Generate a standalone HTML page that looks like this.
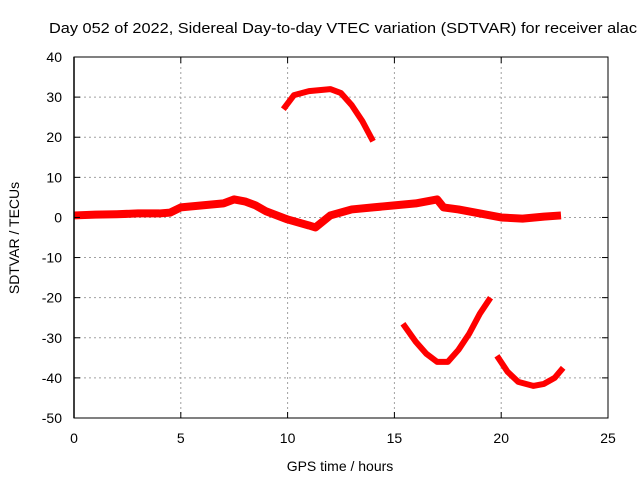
<!DOCTYPE html>
<html><head><meta charset="utf-8"><style>
body{margin:0;background:#fff}
svg{font-family:"Liberation Sans",sans-serif;font-size:14px}
</style></head><body>
<svg id="chart" width="640" height="480">
<text x="49" y="33" text-anchor="start" textLength="588" lengthAdjust="spacingAndGlyphs" style="font-size:15px">Day 052 of 2022, Sidereal Day-to-day VTEC variation (SDTVAR) for receiver alac</text>
<g id="grid"></g><g id="series"></g><g id="axes"></g>
<text x="340" y="471" text-anchor="middle">GPS time / hours</text>
<text transform="translate(19,238) rotate(-90)" text-anchor="middle">SDTVAR / TECUs</text>
</svg>
<script>
const xTicks=[0,5,10,15,20,25];
const yTicks=[40,30,20,10,0,-10,-20,-30,-40,-50];
const mainHours=[0,1,2,3,4,4.5,5,6,7,7.5,8,8.5,9,10,11,11.3,12,13,14,15,16,17,17.3,18,19,20,21,22,22.8];
const mainValues=[0.5,0.7,0.8,1,1,1.2,2.5,3,3.5,4.5,4,3,1.5,-0.5,-2,-2.5,0.5,2,2.5,3,3.5,4.5,2.5,2,1,0,-0.3,0.2,0.5];
const arc1Hours=[9.8,10.3,11,12,12.5,13,13.5,14];
const arc1Values=[27,30.5,31.5,32,31,28,24,19];
const arc2Hours=[15.4,16,16.5,17,17.5,18,18.5,19,19.5];
const arc2Values=[-26.5,-31,-34,-36,-36,-33,-29,-24,-20];
const arc3Hours=[19.8,20.3,20.8,21.5,22,22.5,22.9];
const arc3Values=[-34.5,-38.5,-41,-42,-41.5,-40,-37.5];
const X0=74,X1=608,Y0=418,Y1=57;
const sx=v=>X0+(v-0)/25*(X1-X0);
const sy=v=>Y0-(v+50)/90*(Y0-Y1);
const NS="http://www.w3.org/2000/svg";
function mk(t,a,p){const e=document.createElementNS(NS,t);for(const k in a)e.setAttribute(k,a[k]);p.appendChild(e);return e;}
const grid=document.getElementById('grid'),axes=document.getElementById('axes'),series=document.getElementById('series');
xTicks.forEach(t=>{
 const x=sx(t);
 if(t>0&&t<25){const g=mk('line',{x1:x,x2:x,y1:Y1,y2:Y0,stroke:'#a0a0a0','stroke-dasharray':'2,3'},grid);
 
 }
 const l=mk('text',{x:x,y:Y0+25,'text-anchor':'middle'},axes);l.textContent=t;
 
 
 mk('line',{x1:x,x2:x,y1:Y0,y2:Y0-6,stroke:'#000'},axes);
 mk('line',{x1:x,x2:x,y1:Y1,y2:Y1+6,stroke:'#000'},axes);
});
yTicks.forEach(t=>{
 const y=sy(t);
 if(t<40&&t>-50){const g=mk('line',{x1:X0,x2:X1,y1:y,y2:y,stroke:'#a0a0a0','stroke-dasharray':'2,3'},grid);
 
 }
 const l=mk('text',{x:X0-12,y:y+5,'text-anchor':'end'},axes);l.textContent=t;
 
 
 mk('line',{x1:X0,x2:X0+6,y1:y,y2:y,stroke:'#000'},axes);
 mk('line',{x1:X1,x2:X1-6,y1:y,y2:y,stroke:'#000'},axes);
});
mk('line',{x1:X0,x2:X0,y1:Y1,y2:Y0,stroke:'#000','stroke-width':1.5},axes);
const fr=mk('rect',{x:X0,y:Y1,width:X1-X0,height:Y0-Y1,fill:'none',stroke:'#000'},axes);


[[mainHours,mainValues,'main-series',8],[arc1Hours,arc1Values,'arc-series-1',6],[arc2Hours,arc2Values,'arc-series-2',6],[arc3Hours,arc3Values,'arc-series-3',6]].forEach(([h,v,n,w])=>{
 const p=mk('polyline',{points:h.map((x,i)=>sx(x)+','+sy(v[i])).join(' '),fill:'none',stroke:'#ff0000','stroke-width':w,'stroke-linejoin':'round'},series);
 
 
});
</script>
</body></html>
